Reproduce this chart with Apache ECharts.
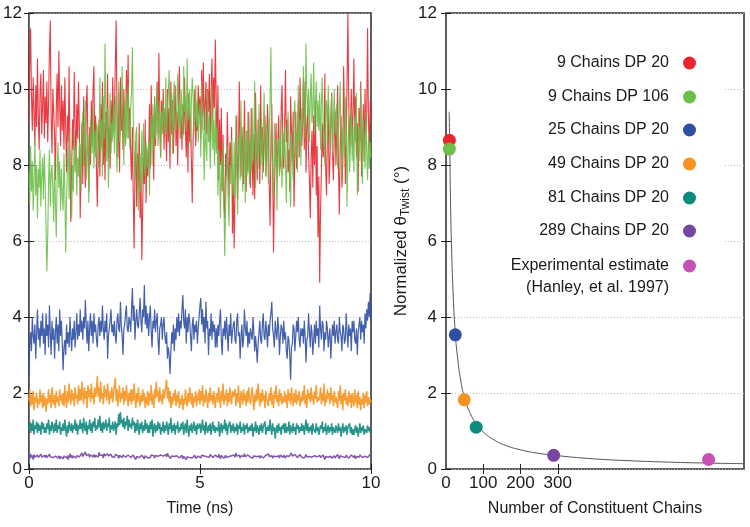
<!DOCTYPE html>
<html><head><meta charset="utf-8">
<script src="https://cdn.jsdelivr.net/npm/echarts@6/dist/echarts.min.js"></script>
<style>html,body{margin:0;padding:0;background:#fff}#c{width:750px;height:527px}</style>
</head><body><div id="c"></div>
<script>
// ---- Left panel: normalized twist vs time, sampled every 0.025 ns (0..10 ns) ----
const timeMax = 10;
const red9dp20 = [
9.2,10.6,11.6,9.8,8.9,10.3,9.4,8.5,10.1,9.0,10.8,9.3,8.4,9.9,10.4,8.8,9.6,10.5,8.7,9.8,
9.1,10.2,8.6,9.7,11.0,11.8,9.2,8.3,10.0,9.4,8.8,7.6,9.5,10.4,9.0,11.0,9.6,8.5,10.1,8.9,
9.7,8.4,10.3,9.0,7.8,9.3,8.6,10.6,8.1,6.5,7.9,9.2,8.4,10.45,9.1,8.0,9.6,8.7,10.2,9.0,
6.6,8.2,9.1,7.5,9.8,8.3,7.4,9.5,10.1,8.6,7.3,9.0,8.0,9.7,8.5,10.0,10.6,8.4,9.3,7.9,
6.9,8.4,9.2,7.7,9.6,8.5,10.2,8.0,9.1,7.6,9.4,8.8,10.4,8.2,9.0,7.9,9.7,8.6,10.3,8.9,
9.5,10.6,11.8,9.3,8.2,9.9,7.8,10.3,8.9,9.6,8.4,10.0,9.1,8.6,10.5,9.4,10.9,8.7,9.5,8.3,
7.6,9.0,7.2,5.8,7.9,8.6,6.9,8.3,7.4,9.1,6.6,7.8,5.5,6.8,8.2,7.5,9.2,7.0,8.4,7.7,
8.3,9.6,7.9,10.1,8.7,9.3,7.6,9.8,8.5,9.4,10.2,8.8,10.95,9.1,8.2,9.7,8.9,10.0,8.4,9.5,
9.0,8.1,10.0,8.6,9.5,7.9,10.2,8.8,9.7,8.3,9.2,10.1,8.5,9.4,8.0,9.9,10.6,8.7,9.3,8.4,
9.6,8.8,10.3,9.0,8.2,9.5,7.8,9.9,8.6,9.3,8.1,7.0,8.7,9.4,10.0,8.5,9.2,8.9,10.1,9.3,
9.8,8.7,10.5,9.3,10.7,8.9,9.6,10.2,8.8,10.0,9.4,10.4,8.6,9.9,10.8,9.2,10.3,9.5,11.3,9.7,
8.4,10.1,7.6,9.2,8.0,9.5,7.3,8.8,7.0,6.6,8.3,7.7,9.4,8.1,7.2,8.6,7.9,9.0,6.2,7.5,
5.8,7.4,8.5,9.3,7.1,8.2,10.2,8.6,7.7,9.0,8.4,7.5,9.7,8.1,7.3,8.9,7.8,9.4,8.0,7.4,
9.5,8.1,7.2,8.8,7.1,9.9,8.4,7.6,9.2,8.6,7.5,10.1,8.3,9.0,7.8,8.7,9.3,7.7,8.5,9.6,
8.8,7.4,6.4,8.6,9.6,7.9,5.7,7.3,8.2,9.1,7.6,8.5,9.3,7.8,8.0,9.5,10.1,8.3,7.9,9.0,
10.5,8.6,9.2,7.8,8.4,7.3,9.8,8.9,8.1,9.4,6.9,8.3,9.4,7.9,8.6,9.7,8.2,10.3,9.0,8.5,
9.1,10.3,8.4,10.2,7.8,9.0,9.5,8.3,7.6,6.6,8.2,8.9,7.4,9.3,8.0,9.7,7.2,8.5,6.1,7.7,
4.9,6.8,7.8,9.1,8.2,8.4,10.4,7.9,7.2,8.8,9.6,7.5,8.1,9.2,9.9,8.3,7.6,8.7,9.4,8.0,
8.9,10.1,7.9,6.7,8.6,9.3,7.4,8.0,10.6,9.1,7.5,8.8,10.2,12.0,9.6,8.3,9.2,10.0,8.5,9.4,
10.8,8.7,9.8,8.2,9.1,7.3,9.5,8.6,10.2,7.7,8.4,9.6,8.1,10.0,8.8,9.4,11.6,9.2,8.4,9.7,
9.2];
const green9dp106 = [
7.8,7.0,8.5,7.3,8.1,6.8,7.6,8.7,7.2,8.0,6.6,7.9,7.4,8.4,6.9,7.7,8.2,7.1,8.3,7.5,
6.4,5.2,6.1,7.6,8.4,6.9,7.8,8.0,7.3,6.5,8.2,7.0,6.1,7.7,8.6,7.4,8.1,6.8,7.9,7.2,
6.8,8.3,7.4,5.7,7.0,7.9,8.8,7.1,8.4,7.6,6.6,8.0,7.3,8.9,7.8,8.5,7.2,8.2,7.7,8.6,
8.5,7.3,9.0,9.4,8.0,8.7,9.7,7.6,8.4,8.8,7.0,8.1,9.2,8.6,8.3,9.5,7.9,8.9,8.2,9.1,
9.0,7.9,8.6,10.3,8.4,9.2,7.7,9.8,8.7,11.2,9.4,8.1,9.5,7.4,8.9,9.9,8.3,9.1,8.7,9.6,
8.3,9.8,8.8,7.8,9.3,10.2,8.6,8.9,9.4,10.6,9.0,8.0,9.6,8.5,9.9,8.7,10.1,9.2,8.4,9.5,
9.9,11.1,9.3,8.4,7.6,8.8,9.0,7.5,6.8,8.2,8.3,7.3,8.9,7.5,9.1,8.0,7.7,8.6,7.9,8.4,
8.6,7.2,8.9,9.3,8.0,9.6,8.4,9.8,8.7,9.2,10.1,8.5,9.0,9.7,8.2,9.4,8.8,9.6,9.1,8.9,
10.3,8.8,9.5,9.9,10.5,8.6,9.3,9.9,8.3,9.7,10.2,9.1,8.9,9.7,10.4,9.0,9.6,8.7,10.0,9.4,
8.7,10.6,9.4,9.8,8.9,10.8,9.2,9.6,10.0,8.5,9.7,10.3,9.8,8.8,9.5,10.1,9.0,9.7,8.6,9.3,
9.6,8.2,10.2,9.0,8.8,7.6,9.4,8.5,8.1,9.9,8.6,9.3,7.9,8.7,10.1,8.4,9.2,8.0,9.5,8.3,
9.0,7.2,8.4,7.8,6.6,8.1,7.4,8.6,7.0,5.6,6.9,7.8,8.5,7.1,6.4,8.0,7.5,8.7,7.7,7.2,
8.6,7.1,9.3,7.8,6.7,8.4,8.8,7.6,9.7,8.2,7.3,9.0,8.5,7.0,8.9,7.7,9.4,8.1,7.5,8.7,
7.8,9.5,8.1,8.8,10.2,7.4,8.9,8.3,7.9,9.6,8.6,8.0,9.2,7.6,8.8,9.9,8.4,7.7,9.1,8.5,
7.5,8.9,9.6,11.1,8.4,7.9,7.2,9.1,8.0,8.7,6.8,8.3,8.7,7.7,9.2,8.1,7.4,8.9,8.2,9.0,
8.1,7.0,8.8,9.4,8.5,7.6,6.9,8.8,8.2,7.6,9.3,9.7,8.2,8.9,7.8,10.1,8.6,9.2,8.0,9.5,
9.0,10.6,9.4,8.7,11.2,9.9,9.3,10.0,8.6,9.8,10.4,9.1,9.5,10.7,8.8,9.6,10.2,9.0,9.7,8.9,
9.9,8.4,9.6,10.3,9.1,8.7,8.0,9.5,9.7,8.6,10.1,9.3,8.5,9.2,9.8,8.3,9.0,10.0,8.8,9.4,
9.6,7.9,8.8,9.4,10.2,8.5,7.6,9.0,8.6,8.2,9.8,8.9,6.9,8.5,9.3,7.8,8.7,9.5,8.1,9.0,
7.8,9.3,8.6,9.9,7.2,8.4,9.0,8.1,10.0,8.7,7.5,9.2,8.7,7.9,9.4,8.3,7.6,8.8,7.9,8.6,
8.2];
const blue25dp20 = [
2.4,3.3,3.6,3.1,4.0,3.5,3.3,3.8,2.9,3.6,4.2,3.4,3.7,3.2,3.9,3.5,4.1,3.3,3.7,3.0,
4.1,3.5,3.8,3.2,4.3,3.6,3.0,3.9,3.4,3.7,2.9,3.6,4.0,3.3,3.8,3.1,4.2,3.5,3.9,3.3,
2.6,3.2,3.4,3.0,3.8,3.3,3.6,3.2,4.0,3.5,3.1,3.7,3.4,3.9,3.2,3.6,4.1,3.4,3.8,3.5,
4.2,3.6,3.9,3.4,4.0,3.7,4.45,3.8,3.3,3.9,3.1,3.7,4.1,3.5,3.9,3.3,4.1,3.6,3.8,3.4,
3.2,3.8,4.0,3.5,3.9,3.6,4.3,3.7,3.4,3.9,3.6,4.1,2.9,3.5,3.7,3.9,4.2,3.6,3.8,3.5,
3.9,3.5,3.3,3.9,4.1,3.7,3.6,4.4,3.8,3.5,3.0,3.7,3.8,4.1,4.3,3.7,3.6,4.0,3.9,3.6,
4.2,4.76,3.9,4.3,3.4,3.9,4.2,3.8,3.7,4.1,4.5,3.9,3.6,4.2,4.0,4.84,3.8,4.3,3.7,4.1,
3.5,4.0,4.3,3.6,3.2,3.9,3.7,4.2,3.6,3.9,4.1,3.4,3.0,3.7,3.8,4.0,3.4,3.8,4.0,3.5,
3.3,3.6,2.9,3.2,3.0,2.5,3.1,3.6,3.3,3.8,3.1,3.7,3.4,4.0,3.6,4.1,3.5,3.9,3.7,4.2,
4.58,3.9,3.7,4.2,3.3,4.0,3.6,4.1,3.9,3.5,3.1,3.8,4.0,3.4,3.8,3.6,3.9,3.3,3.7,4.0,
4.3,4.5,3.8,4.2,3.6,4.0,3.3,4.4,3.7,3.9,3.0,3.7,3.5,4.1,3.4,3.9,3.6,3.8,3.2,3.7,
3.2,3.8,3.5,3.9,4.2,3.4,3.0,3.7,3.5,3.9,3.4,4.0,3.6,3.1,3.8,3.5,4.1,3.3,3.6,3.8,
3.9,3.4,3.3,3.9,4.1,3.5,3.6,2.9,3.5,3.8,3.2,3.4,4.2,3.7,3.5,3.9,3.2,3.6,3.3,3.7,
3.7,3.4,4.0,3.6,3.1,3.5,3.2,2.8,3.3,3.6,3.9,3.4,3.3,3.8,4.1,3.5,3.4,3.9,3.6,3.2,
3.8,3.5,3.9,4.1,4.4,3.7,3.5,3.2,3.9,3.6,3.4,4.0,3.7,3.0,3.5,3.8,3.7,3.3,3.9,3.4,
3.6,3.1,2.9,3.5,3.4,3.0,2.35,3.2,3.3,3.8,3.7,3.1,3.5,3.9,3.6,4.0,3.4,3.2,3.7,3.5,
3.7,3.3,3.9,3.5,2.8,3.4,3.5,4.1,3.6,3.2,3.8,3.6,3.0,3.4,3.8,3.3,3.9,3.5,3.7,3.2,
4.3,3.7,3.4,3.9,3.8,3.1,3.6,3.4,3.9,3.7,3.2,3.5,3.7,2.9,3.4,3.8,3.5,3.9,3.3,3.6,
3.8,3.4,3.3,4.0,3.6,3.5,3.1,3.8,3.7,3.3,3.4,4.1,3.6,3.2,3.8,3.5,3.7,3.1,3.9,3.6,
3.9,3.4,3.3,3.7,3.0,3.6,3.8,4.0,3.4,3.9,3.6,3.8,3.3,4.1,3.7,4.2,3.9,4.4,4.0,4.63,
3.9];
const orange49dp20 = [
1.8,2.1,1.65,1.95,1.7,2.05,1.55,1.9,1.75,2.0,1.6,1.85,1.7,2.1,1.75,1.95,1.6,2.0,1.65,1.9,
1.5,1.85,1.7,2.1,1.75,1.95,1.6,2.15,1.8,1.7,1.95,1.6,2.05,1.75,1.9,1.65,2.1,1.8,1.95,1.7,
2.0,1.65,2.2,1.85,1.6,2.05,1.75,2.25,1.9,1.7,2.1,1.8,2.0,1.65,2.15,1.85,1.95,1.7,2.2,1.8,
2.1,1.8,2.3,1.95,1.7,2.15,1.85,2.05,1.6,2.2,1.9,2.1,1.75,2.25,1.85,2.0,1.7,2.15,1.9,2.05,
2.45,1.9,2.15,1.75,2.3,1.85,2.0,1.7,2.2,1.9,2.1,1.8,2.25,1.95,1.7,2.05,1.85,2.15,1.75,2.0,
2.05,2.4,1.8,2.1,1.65,1.95,2.2,1.75,2.0,1.85,2.15,1.7,2.05,1.8,2.2,1.9,1.65,2.0,1.8,2.1,
1.7,2.1,1.8,2.25,1.9,1.6,2.0,1.75,2.15,1.85,1.65,1.95,1.75,2.1,1.8,2.0,1.6,1.9,1.7,2.05,
1.65,2.0,1.8,2.2,1.7,1.95,1.6,2.1,1.85,2.3,1.9,2.05,1.75,2.15,1.8,1.95,1.7,2.1,1.85,2.0,
2.0,2.35,1.85,2.15,1.75,2.05,1.6,1.9,1.7,2.0,1.8,2.1,1.65,1.95,1.75,2.05,1.6,1.85,1.7,1.95,
1.55,1.85,1.7,2.1,1.8,1.65,2.0,1.75,2.15,1.9,1.7,2.0,1.6,1.9,1.75,2.05,1.65,1.95,1.8,2.1,
1.7,2.05,1.8,2.2,1.65,1.95,1.75,2.1,1.85,1.6,2.0,1.75,2.15,1.8,1.95,1.7,2.05,1.85,1.6,1.9,
2.0,1.75,2.15,1.9,1.6,2.05,1.8,2.25,1.7,1.95,1.8,2.1,1.65,2.0,1.75,2.15,1.85,1.7,2.05,1.9,
1.85,2.1,1.65,2.0,1.75,2.2,1.8,1.6,2.05,1.9,1.7,2.1,1.8,1.95,1.65,2.05,1.75,2.15,1.85,1.7,
1.7,2.15,1.85,1.55,1.95,1.75,2.1,1.8,2.25,1.9,1.65,2.0,1.75,2.1,1.8,1.95,1.6,2.05,1.85,1.75,
1.65,2.0,1.8,2.15,1.7,1.95,1.6,2.05,1.85,2.2,1.75,1.95,1.65,2.1,1.8,2.0,1.7,1.9,1.75,2.05,
1.75,1.95,1.6,2.1,1.8,2.0,1.7,2.15,1.85,1.65,2.0,1.75,2.1,1.7,1.95,1.8,2.05,1.65,1.9,1.75,
2.05,1.8,2.2,1.7,1.95,1.6,2.1,1.85,2.0,1.75,2.15,1.8,1.95,1.7,2.05,1.85,2.2,1.75,1.9,1.8,
1.9,2.15,1.7,2.0,1.8,2.25,1.65,1.95,1.75,2.1,1.85,2.0,1.7,2.15,1.8,1.95,1.65,2.05,1.75,1.9,
1.85,1.6,2.05,1.8,2.2,1.7,1.95,1.55,2.0,1.8,2.1,1.7,1.9,1.65,2.05,1.75,1.95,1.6,2.0,1.8,
1.65,2.1,1.75,1.95,1.6,2.05,1.7,1.9,1.55,1.85,1.7,2.0,1.6,1.95,1.75,2.05,1.65,1.9,1.7,1.85,
1.75];
const teal81dp20 = [
1.1,1.25,0.95,1.2,1.0,1.3,0.9,1.15,1.05,1.25,0.95,1.2,1.0,1.15,0.9,1.25,1.05,1.2,0.95,1.1,
0.95,1.2,1.05,1.3,0.9,1.15,1.0,1.25,1.1,0.95,1.2,1.0,1.3,0.95,1.15,1.05,1.25,0.9,1.1,1.0,
1.2,1.0,1.3,1.05,0.85,1.15,0.95,1.25,1.1,1.0,1.2,0.95,1.15,1.05,1.3,1.0,1.2,0.9,1.15,1.05,
1.3,1.05,1.2,0.95,1.35,1.1,1.0,1.25,0.9,1.15,1.05,1.3,1.0,1.2,0.95,1.25,1.1,1.35,1.0,1.15,
1.05,1.3,1.1,1.4,1.0,1.2,0.95,1.25,1.05,1.15,1.3,1.0,1.2,1.1,1.35,0.95,1.15,1.05,1.25,1.0,
1.0,1.25,0.9,1.2,1.1,1.45,1.15,1.5,1.2,1.3,1.1,1.35,1.05,1.25,1.15,1.4,1.0,1.3,1.1,1.2,
1.05,1.35,1.15,1.25,0.95,1.2,1.0,1.3,1.1,0.9,1.2,1.05,1.25,0.95,1.15,1.0,1.3,1.05,1.2,0.95,
1.15,0.95,1.25,1.05,1.3,0.85,1.1,1.2,0.95,1.15,1.0,1.25,1.05,1.2,0.9,1.1,1.0,1.25,0.95,1.15,
1.0,1.25,1.1,0.9,1.2,1.05,1.35,0.95,1.15,1.0,1.2,0.9,1.15,1.05,1.25,0.95,1.1,1.0,1.2,1.05,
1.25,0.9,1.1,1.2,0.95,1.3,1.05,0.85,1.15,1.0,1.2,0.95,1.1,1.25,1.0,1.15,0.9,1.2,1.05,1.0,
1.2,0.95,1.1,1.3,1.0,1.15,0.9,1.25,1.05,0.95,1.15,1.0,1.2,0.9,1.1,1.25,1.0,1.15,0.95,1.1,
1.15,1.0,1.25,0.85,1.1,1.2,0.95,1.15,1.05,1.3,1.0,1.2,0.9,1.1,1.05,1.25,0.95,1.15,1.0,1.2,
0.95,1.1,1.0,1.2,0.9,1.15,1.05,1.25,0.95,1.1,1.0,1.2,0.9,1.15,1.05,1.2,0.95,1.1,1.0,1.15,
1.0,1.2,0.85,1.1,1.0,1.25,0.95,1.15,1.05,0.9,1.15,1.0,1.2,0.95,1.1,1.05,1.25,0.9,1.1,1.0,
1.15,1.0,1.3,1.05,0.9,1.2,1.0,1.1,0.8,1.05,1.15,0.95,1.2,1.0,1.1,0.9,1.15,1.05,1.2,0.95,
1.2,0.95,1.1,1.0,1.25,0.9,1.15,1.05,0.95,1.2,1.0,1.1,0.9,1.2,1.05,1.15,0.95,1.1,1.0,1.2,
1.0,1.15,0.9,1.1,1.3,1.0,1.2,0.95,1.1,1.0,1.15,0.9,1.2,1.05,1.1,0.95,1.2,1.0,1.1,0.9,
0.85,1.15,1.05,1.25,0.95,1.1,1.0,1.2,0.9,1.05,1.15,0.95,1.1,1.0,1.2,0.9,1.1,1.05,0.95,1.15,
1.15,0.95,1.2,1.0,1.1,0.85,1.05,1.2,0.95,1.1,1.0,1.15,0.9,1.1,1.05,1.2,0.95,1.1,0.9,1.05,
0.9,1.05,1.15,0.95,1.1,0.85,1.0,1.2,0.95,1.1,1.0,1.15,0.9,1.05,1.1,0.95,1.15,1.0,1.1,0.95,
1.0];
const purple289dp20 = [
0.35,0.28,0.4,0.3,0.36,0.25,0.38,0.31,0.34,0.27,0.37,0.3,0.35,0.28,0.39,0.31,0.34,0.26,0.36,0.3,
0.37,0.3,0.33,0.26,0.39,0.32,0.28,0.36,0.3,0.35,0.27,0.34,0.31,0.38,0.29,0.35,0.26,0.33,0.3,0.36,
0.27,0.34,0.31,0.38,0.29,0.35,0.25,0.33,0.4,0.3,0.36,0.28,0.34,0.31,0.37,0.29,0.35,0.3,0.38,0.32,
0.36,0.29,0.42,0.33,0.38,0.3,0.45,0.35,0.4,0.32,0.39,0.31,0.37,0.34,0.41,0.32,0.38,0.3,0.36,0.33,
0.38,0.31,0.44,0.36,0.4,0.33,0.37,0.29,0.41,0.35,0.38,0.32,0.4,0.34,0.37,0.3,0.39,0.33,0.36,0.31,
0.3,0.38,0.33,0.42,0.35,0.28,0.36,0.32,0.39,0.3,0.37,0.33,0.4,0.31,0.35,0.29,0.37,0.32,0.34,0.3,
0.34,0.27,0.37,0.31,0.35,0.25,0.33,0.29,0.36,0.3,0.34,0.28,0.36,0.31,0.33,0.27,0.35,0.3,0.37,0.29,
0.28,0.34,0.3,0.37,0.32,0.4,0.35,0.29,0.36,0.31,0.38,0.33,0.35,0.3,0.37,0.32,0.39,0.34,0.31,0.36,
0.38,0.32,0.42,0.35,0.3,0.37,0.28,0.34,0.31,0.36,0.33,0.38,0.3,0.35,0.32,0.37,0.29,0.34,0.31,0.36,
0.27,0.33,0.3,0.36,0.25,0.32,0.28,0.35,0.3,0.26,0.33,0.29,0.34,0.3,0.36,0.28,0.32,0.27,0.34,0.3,
0.33,0.29,0.36,0.31,0.4,0.34,0.3,0.37,0.32,0.28,0.35,0.31,0.38,0.33,0.36,0.3,0.34,0.29,0.37,0.32,
0.35,0.3,0.38,0.33,0.27,0.36,0.31,0.34,0.28,0.32,0.36,0.3,0.35,0.29,0.33,0.37,0.31,0.35,0.3,0.34,
0.37,0.31,0.42,0.34,0.39,0.32,0.36,0.29,0.35,0.3,0.38,0.33,0.4,0.32,0.36,0.3,0.37,0.33,0.35,0.31,
0.26,0.33,0.29,0.35,0.3,0.38,0.32,0.36,0.3,0.34,0.28,0.35,0.31,0.37,0.29,0.34,0.3,0.36,0.32,0.35,
0.4,0.33,0.37,0.3,0.35,0.28,0.34,0.31,0.38,0.32,0.36,0.3,0.35,0.29,0.37,0.32,0.34,0.3,0.36,0.33,
0.29,0.35,0.31,0.39,0.33,0.36,0.3,0.42,0.34,0.37,0.31,0.38,0.33,0.36,0.3,0.35,0.32,0.38,0.34,0.31,
0.31,0.36,0.29,0.34,0.38,0.32,0.35,0.27,0.33,0.3,0.36,0.31,0.34,0.28,0.35,0.3,0.37,0.32,0.34,0.29,
0.36,0.3,0.34,0.28,0.37,0.31,0.25,0.33,0.29,0.35,0.31,0.36,0.3,0.34,0.28,0.33,0.3,0.35,0.29,0.32,
0.31,0.38,0.33,0.27,0.35,0.3,0.36,0.32,0.29,0.34,0.3,0.36,0.31,0.35,0.28,0.33,0.3,0.37,0.32,0.34,
0.3,0.36,0.27,0.33,0.29,0.35,0.31,0.37,0.32,0.38,0.3,0.35,0.28,0.34,0.31,0.36,0.3,0.35,0.32,0.38,
0.34];

// ---- Right panel: average twist vs number of chains ----
const chainNames = ['9 Chains DP 20','9 Chains DP 106','25 Chains DP 20','49 Chains DP 20','81 Chains DP 20','289 Chains DP 20','Experimental estimate'];
const chainCounts = [9, 9, 25, 49, 81, 289, 705];
const chainTwist = [8.65, 8.42, 3.53, 1.82, 1.1, 0.36, 0.25];
const fitX = [8.5,10,12,15,20,25,30,40,50,60,80,100,130,160,200,250,300,400,500,600,700,800];
const fitY = [9.4,8.5,7.15,5.8,4.43,3.58,3.02,2.3,1.87,1.58,1.2,0.975,0.76,0.62,0.505,0.41,0.35,0.265,0.215,0.18,0.156,0.14];
const leftYTicks = [0,2,4,6,8,10,12];
const leftXTicks = [0,5,10];
const rightXLabels = [0,100,200,300];

const colors = ['#e8262d','#6cbf47','#2f4fa3','#f6931f','#0f8a7e','#7646a0','#c652b6'];
const lineWidths = [1.1, 1.1, 1.2, 1.5, 1.5, 1.5];
const timeSeries = [red9dp20, green9dp106, blue25dp20, orange49dp20, teal81dp20, purple289dp20];

const FONT = 'Liberation Sans, Arial, sans-serif';
const TXT = '#1a1a1a';
const withTime = arr => arr.map((v, i) => [i * timeMax / (arr.length - 1), v]);

const tickStyle = {show: true, inside: true, length: 5, lineStyle: {color: '#222', width: 1}};
const labelStyle = {fontSize: 17, color: TXT, fontFamily: FONT};

const xAxis = [
  {gridIndex: 0, type: 'value', min: leftXTicks[0], max: leftXTicks[leftXTicks.length-1], interval: 5,
   axisLine: {show: false}, axisTick: tickStyle, splitLine: {show: false},
   axisLabel: Object.assign({margin: 6}, labelStyle),
   name: 'Time (ns)', nameLocation: 'middle', nameGap: 32,
   nameTextStyle: {fontSize: 16, color: TXT, fontFamily: FONT}},
  {gridIndex: 0, type: 'value', position: 'top', min: 0, max: 10, interval: 5,
   axisLine: {show: false}, axisTick: tickStyle, splitLine: {show: false}, axisLabel: {show: false}},
  {gridIndex: 1, type: 'value', min: 0, max: 800, interval: 100,
   axisLine: {show: false},
   axisTick: Object.assign({customValues: [100, 200, 300]}, tickStyle),
   splitLine: {show: false},
   axisLabel: Object.assign({margin: 6, customValues: rightXLabels}, labelStyle),
   name: 'Number of Constituent Chains', nameLocation: 'middle', nameGap: 32,
   nameTextStyle: {fontSize: 16, color: TXT, fontFamily: FONT}},
  {gridIndex: 1, type: 'value', position: 'top', min: 0, max: 800, interval: 100,
   axisLine: {show: false},
   axisTick: Object.assign({customValues: [100, 200, 300]}, tickStyle),
   splitLine: {show: false}, axisLabel: {show: false}}
];

const split = {show: true, lineStyle: {color: '#b8b8b8', type: [1, 2], width: 1}};
const yAxis = [
  {gridIndex: 0, type: 'value', min: leftYTicks[0], max: leftYTicks[leftYTicks.length-1], interval: 2,
   axisLine: {show: false}, axisTick: tickStyle, splitLine: split,
   axisLabel: Object.assign({margin: 7}, labelStyle)},
  {gridIndex: 0, type: 'value', position: 'right', min: 0, max: 12, interval: 2,
   axisLine: {show: false}, axisTick: tickStyle, splitLine: {show: false}, axisLabel: {show: false}},
  {gridIndex: 1, type: 'value', min: 0, max: 12, interval: 2,
   axisLine: {show: false}, axisTick: tickStyle, splitLine: split,
   axisLabel: Object.assign({margin: 9}, labelStyle),
   name: 'Normalized θ{sub|Twist} (°)', nameLocation: 'middle', nameGap: 34,
   nameTextStyle: {fontSize: 17, color: TXT, fontFamily: FONT,
     rich: {sub: {fontSize: 12, color: TXT, fontFamily: FONT, padding: [10, 0, 0, 0]}}}},
  {gridIndex: 1, type: 'value', position: 'right', min: 0, max: 12, interval: 2,
   axisLine: {show: false}, axisTick: tickStyle, splitLine: {show: false}, axisLabel: {show: false}}
];

const series = [];
timeSeries.forEach((arr, k) => {
  series.push({
    type: 'line', xAxisIndex: 0, yAxisIndex: 0, name: 'ts' + k,
    data: withTime(arr), showSymbol: false, symbol: 'none', sampling: null,
    lineStyle: {color: colors[k], width: lineWidths[k], opacity: 0.9}, z: 2 + (k === 1 ? 1 : 0)
  });
});
series.push({
  type: 'line', xAxisIndex: 2, yAxisIndex: 2, name: 'fit',
  data: fitX.map((x, i) => [x, fitY[i]]), smooth: true, symbol: 'none',
  lineStyle: {color: '#555', width: 1}, z: 3
});
chainNames.forEach((n, i) => {
  series.push({
    type: 'scatter', xAxisIndex: 2, yAxisIndex: 2, name: n,
    data: [[chainCounts[i], chainTwist[i]]], symbolSize: 13,
    itemStyle: {color: colors[i], opacity: 1}, z: 4 + (i === 0 ? 0 : 1)
  });
});

const legendCenters = [62, 96, 129, 163, 197, 230, 264];
const legends = chainNames.map((n, i) => ({
  data: [n], orient: 'horizontal', align: 'right', right: 54,
  top: i < 6 ? legendCenters[i] - 10 : legendCenters[i] - 31,
  padding: 0, itemWidth: 13, itemHeight: 13, icon: 'circle', selectedMode: false,
  formatter: i < 6 ? '{name}' : ' \n{name}\n(Hanley, et al. 1997)',
  textStyle: {fontSize: 16, color: TXT, fontFamily: FONT, lineHeight: 22, padding: [0, 9, 0, 0]}
}));

const chart = echarts.init(document.getElementById('c'), null, {renderer: 'canvas'});
chart.setOption({
  animation: false,
  backgroundColor: '#fff',
  grid: [
    {left: 28, right: 379, top: 13, bottom: 58, show: true, borderColor: '#2a2a2a', borderWidth: 1.5, backgroundColor: 'transparent'},
    {left: 446, right: 6, top: 13, bottom: 58, show: true, borderColor: '#2a2a2a', borderWidth: 1.5, backgroundColor: 'transparent'}
  ],
  graphic: [{type: 'rect', shape: {x: 452, y: 40, width: 271, height: 260}, style: {fill: '#fff'}, z: 1, silent: true}],
  legend: legends,
  xAxis: xAxis,
  yAxis: yAxis,
  series: series
});
</script>
</body></html>
